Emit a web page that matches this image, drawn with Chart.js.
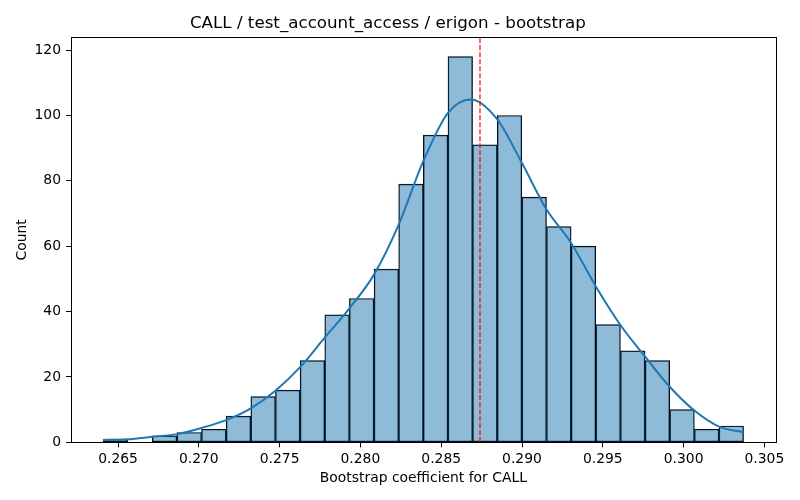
<!DOCTYPE html>
<html>
<head>
<meta charset="UTF-8">
<title>CALL / test_account_access / erigon - bootstrap</title>
<script src="https://cdn.jsdelivr.net/npm/chart.js"></script>
<style>
  body { margin: 0; background: #fff; }
  #wrap { width: 800px; height: 500px; }
</style>
</head>
<body>
<div id="wrap"><canvas id="histChart" width="800" height="500"></canvas></div>
<script>
// histogram bin edges (27 edges -> 26 bins)
const binEdges = [0.26407, 0.26560, 0.26712, 0.26864, 0.27017, 0.27169, 0.27322, 0.27474, 0.27627,
  0.27779, 0.27932, 0.28084, 0.28237, 0.28389, 0.28542, 0.28694, 0.28847, 0.28999, 0.29152,
  0.29304, 0.29457, 0.29609, 0.29762, 0.29914, 0.30067, 0.30219, 0.30371];
// counts per bin
const counts = [1, 0, 2, 3, 4, 8, 14, 16, 25, 39, 44, 53, 79, 94, 118, 91, 100, 75, 66, 60, 36, 28, 25, 10, 4, 5];

// kde curve
const kdeX = [0.26407, 0.26560, 0.26712, 0.26864, 0.27017, 0.27169, 0.27322, 0.27474, 0.27627,
  0.27779, 0.27932, 0.28084, 0.28237, 0.28389, 0.28542, 0.28684, 0.28847, 0.28999, 0.29152,
  0.29304, 0.29457, 0.29609, 0.29762, 0.29914, 0.30067, 0.30219, 0.30371];
const kdeY = [0.7, 0.9, 1.7, 2.5, 4.4, 6.8, 10.4, 15.8, 23, 32, 41, 51.3, 66.6, 86, 100.8, 104.9,
  98.8, 85.5, 71.2, 61, 47.7, 35.9, 26.2, 17, 9.7, 4.8, 3.1];

// dashed marker (observed coefficient)
const markerX = 0.2874;

const xTicks = [0.265, 0.270, 0.275, 0.280, 0.285, 0.290, 0.295, 0.300, 0.305];
const yTicks = [0, 20, 40, 60, 80, 100, 120];
const xMin = 0.26209, xMax = 0.30570;
const yMin = 0, yMax = 123.9;

const font = 'DejaVu Sans';

// bars are centred on the middle of each bin
const barData = counts.map((c, i) => ({ x: (binEdges[i] + binEdges[i + 1]) / 2, y: c }));
const kdeData = kdeX.map((x, i) => ({ x: x, y: kdeY[i] }));

// draws the top/right spines like matplotlib
const frame = {
  id: 'frame',
  afterDraw(chart) {
    const a = chart.chartArea, ctx = chart.ctx;
    ctx.save();
    ctx.strokeStyle = '#000';
    ctx.lineWidth = 1;
    ctx.strokeRect(Math.round(a.left) + 0.5, Math.round(a.top) + 0.5,
      Math.round(a.right - a.left), Math.round(a.bottom - a.top));
    ctx.restore();
  }
};

const ctx = document.getElementById('histChart').getContext('2d');
const myChart = new Chart(ctx, {
  type: 'bar',
  data: {
    datasets: [{
      type: 'line',
      data: [{ x: markerX, y: yMin }, { x: markerX, y: yMax }],
      borderColor: '#ff0000',
      borderWidth: 1.2,
      borderDash: [5, 2],
      pointRadius: 0,
      order: 0
    }, {
      type: 'line',
      data: kdeData,
      borderColor: '#1f77b4',
      borderWidth: 2,
      pointRadius: 0,
      cubicInterpolationMode: 'monotone',
      order: 1
    }, {
      type: 'bar',
      data: barData,
      backgroundColor: 'rgba(31, 119, 180, 0.5)',
      borderColor: '#000',
      borderWidth: 0.8,
      borderSkipped: false,
      barPercentage: 1,
      categoryPercentage: 1,
      grouped: false,
      order: 2
    }]
  },
  options: {
    responsive: false,
    animation: false,
    layout: { padding: { left: 0, right: 24.3, top: 0, bottom: 0 } },
    plugins: {
      legend: { display: false },
      tooltip: { enabled: false },
      title: {
        display: true,
        text: 'CALL / test_account_access / erigon - bootstrap',
        color: '#000',
        font: { family: font, size: 16.7, weight: 'normal' },
        padding: { top: 14, bottom: 3.3 }
      }
    },
    scales: {
      x: {
        type: 'linear',
        min: xMin,
        max: xMax,
        offset: false,
        afterBuildTicks: s => { s.ticks = xTicks.map(v => ({ value: v })); },
        afterFit: s => { s.height = 57.7; },
        ticks: {
          color: '#000',
          font: { family: font, size: 13.9 },
          padding: 4,
          maxRotation: 0,
          callback: v => v.toFixed(3)
        },
        grid: { offset: false, drawOnChartArea: false, drawTicks: true, tickLength: 5, color: '#000' },
        border: { display: true, color: '#000', width: 1 },
        title: {
          display: true,
          text: 'Bootstrap coefficient for CALL',
          color: '#000',
          font: { family: font, size: 13.9 },
          padding: { top: 0, bottom: 13.7 }
        }
      },
      y: {
        type: 'linear',
        min: yMin,
        max: yMax,
        afterBuildTicks: s => { s.ticks = yTicks.map(v => ({ value: v })); },
        afterFit: s => { s.width = 71; },
        ticks: {
          color: '#000',
          font: { family: font, size: 13.9 },
          padding: 5
        },
        grid: { drawOnChartArea: false, drawTicks: true, tickLength: 5, color: '#000' },
        border: { display: true, color: '#000', width: 1 },
        title: {
          display: true,
          text: 'Count',
          color: '#000',
          font: { family: font, size: 13.9 },
          padding: { top: 14, bottom: 0 }
        }
      }
    }
  },
  plugins: [frame]
});
</script>
</body>
</html>
